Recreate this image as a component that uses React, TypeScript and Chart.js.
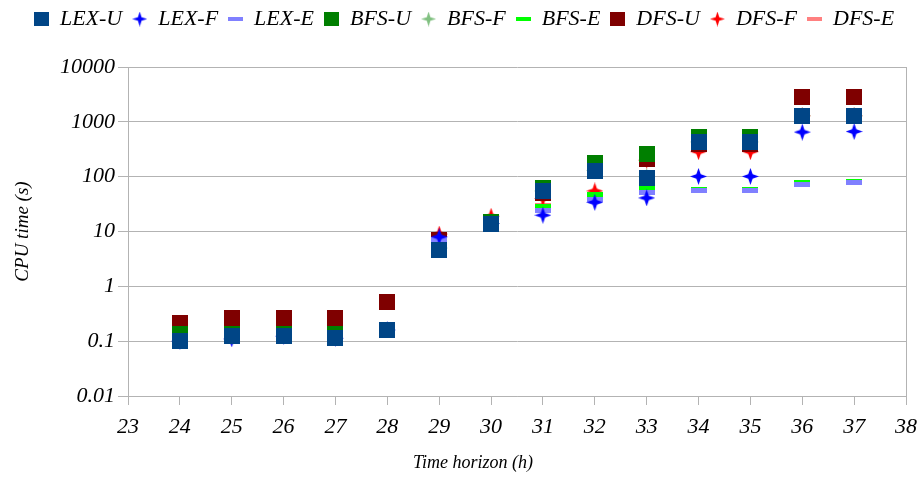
import React, { useEffect, useRef } from "react";
import { Chart, registerables } from "chart.js";

Chart.register(...registerables);

const HOURS = [24, 25, 26, 27, 28, 29, 30, 31, 32, 33, 34, 35, 36, 37];

const LEX_U = [0.1, 0.123, 0.123, 0.113, 0.16, 4.6, 13.5, 54, 129, 96, 424, 424, 1290, 1290];
const LEX_F = [0.1, 0.11, 0.123, 0.113, 0.16, 8.0, 14, 19.8, 34, 41, 101, 101, 650, 665];
const LEX_E = [null, null, null, null, null, 7.2, 14, 24, 39, 51, 56, 56, 72, 79];
const BFS_U = [0.134, 0.136, 0.136, 0.136, 0.16, 5.5, 15.2, 63, 175, 262, 525, 525, 1300, 1300];
const BFS_F = [null, null, null, null, null, 5.0, 14, 55, 130, 100, 430, 430, 1290, 1290];
const BFS_E = [null, null, null, null, null, 6.5, 15, 28.5, 48, 60, 58, 58, 78, 81];
const DFS_U = [0.21, 0.27, 0.27, 0.27, 0.51, 6.9, 15, 50, 150, 206, 400, 400, 2840, 2840];
const DFS_F = [null, null, null, null, null, 9.0, 19, 40, 55, 200, 285, 285, 1290, 1290];
const DFS_E = [null, null, null, null, null, 7.5, 15, 30, 44, 55, 57, 57, 75, 80];

const SERIES_NAMES = ["LEX-U", "LEX-F", "LEX-E", "BFS-U", "BFS-F", "BFS-E", "DFS-U", "DFS-F", "DFS-E"];
const SERIES_VALUES = [LEX_U, LEX_F, LEX_E, BFS_U, BFS_F, BFS_E, DFS_U, DFS_F, DFS_E];
const SERIES_COLORS = ["#004586", "#0000ff", "#8080ff", "#007f00", "#80c080", "#00ff00", "#7f0000", "#ff0000", "#ff8080"];
const SERIES_SHAPES = ["square", "star", "dash", "square", "star", "dash", "square", "star", "dash"];

const Y_TICKS = [0.01, 0.1, 1, 10, 100, 1000, 10000];
const Y_TICK_LABELS = ["0.01", "0.1", "1", "10", "100", "1000", "10000"];
const X_MIN = 23;
const X_MAX = 38;
const X_TITLE = "Time horizon (h)";
const Y_TITLE = "CPU time (s)";

const FONT = "'Liberation Serif', 'Times New Roman', serif";
const GRID = "#b3b3b3";

function makeMarker(shape: string, color: string, legend: boolean): HTMLCanvasElement {
  const c = document.createElement("canvas");
  let w = 16, h = 16;
  if (shape === "square") { w = legend ? 15 : 16; h = legend ? 14 : 16; }
  if (shape === "star") { w = legend ? 15 : 17; h = legend ? 15 : 17; }
  if (shape === "dash") { w = legend ? 15 : 16; h = legend ? 4 : 5; }
  c.width = w; c.height = h;
  const ctx = c.getContext("2d")!;
  ctx.fillStyle = color;
  if (shape === "square" || shape === "dash") {
    ctx.fillRect(0, 0, w, h);
  } else {
    const cx = w / 2, cy = h / 2, k = legend ? 1.8 : 2.2;
    ctx.beginPath();
    ctx.moveTo(cx, 0);
    ctx.lineTo(cx + k, cy - k);
    ctx.lineTo(w, cy);
    ctx.lineTo(cx + k, cy + k);
    ctx.lineTo(cx, h);
    ctx.lineTo(cx - k, cy + k);
    ctx.lineTo(0, cy);
    ctx.lineTo(cx - k, cy - k);
    ctx.closePath();
    ctx.fill();
  }
  return c;
}

export default function App() {
  const ref = useRef<HTMLCanvasElement | null>(null);

  useEffect(() => {
    if (!ref.current) return;
    document.body.style.margin = "0";
    const plotMarkers = SERIES_SHAPES.map((s, i) => makeMarker(s, SERIES_COLORS[i], false));
    const legendMarkers = SERIES_SHAPES.map((s, i) => makeMarker(s, SERIES_COLORS[i], true));

    const datasets = SERIES_NAMES.map((name, i) => ({
      label: name,
      data: HOURS.map((h, j) => ({ x: h, y: SERIES_VALUES[i][j] })).filter((p) => p.y !== null),
      pointStyle: plotMarkers[i] as any,
      pointRadius: 8,
      backgroundColor: SERIES_COLORS[i],
      borderColor: SERIES_COLORS[i],
      showLine: false,
    }));

    const layoutTweaks = {
      id: "layoutTweaks",
      afterInit(chart: any) {
        const lg = chart.legend;
        if (lg && !lg._patched) {
          const orig = lg.fit.bind(lg);
          lg.fit = function () {
            orig();
            this.height = 69;
          };
          lg._patched = true;
        }
      },
      afterLayout(chart: any) {
        if (chart.legend) chart.legend.left += 22;
      },
      afterDraw(chart: any) {
        const ctx = chart.ctx;
        ctx.save();
        ctx.fillStyle = "#000";
        ctx.font = `italic 18px ${FONT}`;
        ctx.textAlign = "center";
        ctx.textBaseline = "middle";
        ctx.fillText(X_TITLE, 473, 463);
        ctx.restore();
      },
    };

    const chart = new Chart(ref.current, {
      type: "scatter",
      data: { datasets: datasets as any },
      plugins: [layoutTweaks],
      options: {
        responsive: false,
        animation: false,
        events: [],
        layout: { padding: { top: -2, left: 0, right: 15, bottom: 0 } },
        plugins: {
          tooltip: { enabled: false },
          legend: {
            display: true,
            position: "top",
            align: "center",
            labels: {
              usePointStyle: true,
              boxWidth: 15,
              boxHeight: 15,
              padding: 10,
              color: "#000",
              font: { family: FONT, size: 22, style: "italic" },
              generateLabels: (chart: any) =>
                chart.data.datasets.map((ds: any, i: number) => ({
                  text: ds.label,
                  fillStyle: SERIES_COLORS[i],
                  strokeStyle: SERIES_COLORS[i],
                  lineWidth: 0,
                  pointStyle: legendMarkers[i],
                  hidden: false,
                  datasetIndex: i,
                  fontColor: "#000",
                })),
            },
          },
        },
        scales: {
          x: {
            type: "linear",
            min: X_MIN,
            max: X_MAX,
            afterFit: (s: any) => {
              s.height = 81;
              s.paddingLeft = 0;
              s.paddingRight = 0;
            },
            ticks: {
              stepSize: 1,
              color: "#000",
              padding: 9,
              font: { family: FONT, size: 22, style: "italic" },
              callback: (v: any) => String(v),
            },
            grid: {
              drawOnChartArea: true,
              color: (c: any) => (c.tick && c.tick.value === X_MAX ? GRID : "rgba(0,0,0,0)"),
              tickColor: GRID,
              tickLength: 9,
              lineWidth: 1,
            },
            border: { display: true, color: GRID },
            title: { display: false },
          },
          y: {
            type: "logarithmic",
            min: 0.01,
            max: 10000,
            afterFit: (s: any) => {
              s.width = 128;
              s.paddingTop = 0;
              s.paddingBottom = 0;
            },
            afterBuildTicks: (s: any) => { s.ticks = Y_TICKS.map((v) => ({ value: v })); },
            ticks: {
              color: "#000",
              padding: 3,
              font: { family: FONT, size: 22, style: "italic" },
              callback: (_v: any, i: number) => Y_TICK_LABELS[i],
            },
            grid: { color: GRID, tickColor: GRID, tickLength: 10, lineWidth: 1 },
            border: { display: true, color: GRID },
            title: {
              display: true,
              text: Y_TITLE,
              color: "#000",
              font: { family: FONT, size: 19, style: "italic" },
              padding: { top: 12, bottom: 0 },
            },
          },
        },
      } as any,
    });
    return () => chart.destroy();
  }, []);

  return (
    <div style={{ position: "absolute", left: 0, top: 0, width: 921, height: 477 }}>
      <canvas ref={ref} width={921} height={477} style={{ display: "block" }} />
    </div>
  );
}
